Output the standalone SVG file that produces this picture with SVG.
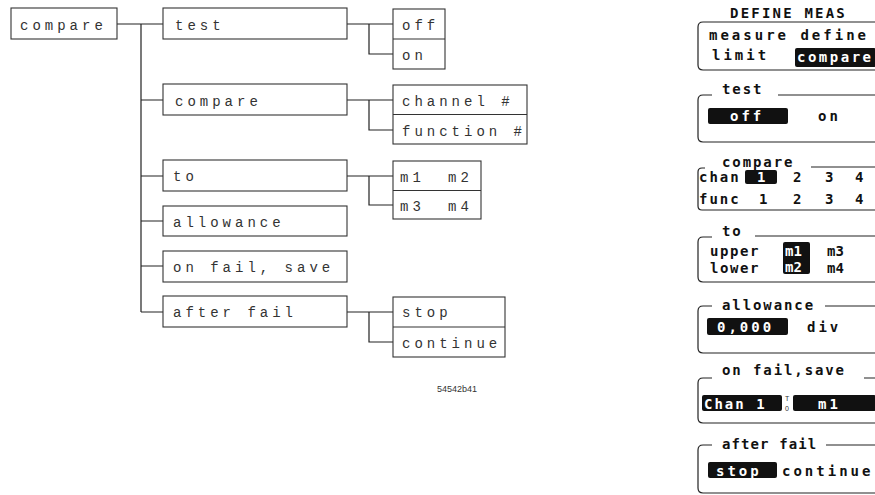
<svg xmlns="http://www.w3.org/2000/svg" width="875" height="495" viewBox="0 0 875 495">
<style>
.bx{fill:none;stroke:#333;stroke-width:1.1}
.cn{fill:none;stroke:#222;stroke-width:1.2}
.t{font-family:"Liberation Mono","DejaVu Sans Mono",monospace;font-size:14px;letter-spacing:4px;fill:#333}
.fr{fill:none;stroke:#222;stroke-width:1.2}
.p{font-family:"DejaVu Sans Mono","Liberation Mono",monospace;font-size:14px;letter-spacing:3px;fill:#111;font-weight:bold}
.l{letter-spacing:1.9px}
.w{fill:#fff}
.blk{fill:#111}
.s{font-family:"Liberation Sans",Arial,sans-serif;font-size:9px;fill:#333}
</style>
<rect width="875" height="495" fill="#fff"/>
<g id="connectors">
<path class="cn" d="M117 24H163M141 24V312M141 100H163M141 176H163M141 221H163M141 266H163M141 312H163"/>
<path class="cn" d="M347 24H393M369 24V54H393"/>
<path class="cn" d="M347 100H393M369 100V130H393"/>
<path class="cn" d="M347 176H393M369 176V205H393"/>
<path class="cn" d="M347 312H393M369 312V342H393"/>
</g>
<g id="n-root"><rect class="bx" x="11" y="8" width="106" height="31"/><text class="t" x="20" y="30">compare</text></g>
<g id="n-test"><rect class="bx" x="163" y="8" width="184" height="31"/><text class="t" x="175" y="30">test</text></g>
<g id="n-offon"><rect class="bx" x="393" y="9" width="52" height="60"/><path class="bx" d="M393 39H445"/><text class="t" x="402" y="30">off</text><text class="t" x="402" y="60">on</text></g>
<g id="n-compare"><rect class="bx" x="163" y="84" width="184" height="31"/><text class="t" x="175" y="106">compare</text></g>
<g id="n-chanfunc"><rect class="bx" x="393" y="85" width="134" height="59"/><path class="bx" d="M393 114.5H527"/><text class="t" x="402" y="106">channel #</text><text class="t" x="402" y="136">function #</text></g>
<g id="n-to"><rect class="bx" x="163" y="160" width="184" height="31"/><text class="t" x="173" y="181">to</text></g>
<g id="n-markers"><rect class="bx" x="393" y="161" width="88" height="58"/><path class="bx" d="M393 190.5H481"/><text class="t" x="400" y="182">m1</text><text class="t" x="448" y="182">m2</text><text class="t" x="400" y="211">m3</text><text class="t" x="448" y="211">m4</text></g>
<g id="n-allowance"><rect class="bx" x="163" y="206" width="184" height="30"/><text class="t" x="173" y="227">allowance</text></g>
<g id="n-onfail"><rect class="bx" x="163" y="251" width="184" height="31"/><text class="t" x="173" y="272">on fail, save</text></g>
<g id="n-afterfail"><rect class="bx" x="163" y="296" width="184" height="31"/><text class="t" x="173" y="317">after fail</text></g>
<g id="n-stopcont"><rect class="bx" x="393" y="297" width="112" height="60"/><path class="bx" d="M393 327H505"/><text class="t" x="402" y="317">stop</text><text class="t" x="402" y="348">continue</text></g>
<text class="s" x="437" y="392">54542b41</text>
<g id="panel">
<text class="p" x="730" y="18" style="letter-spacing:2.2px">DEFINE MEAS</text>
<g id="p-define">
<path class="fr" d="M876 22H703Q698 22 698 27V65Q698 70 703 70H876"/>
<text class="p" x="709" y="40">measure define</text>
<text class="p" x="712" y="60">limit</text>
<rect class="blk" x="795" y="48" width="81" height="19" rx="2"/>
<text class="p w" x="797" y="62" style="letter-spacing:2.5px">compare</text>
</g>
<g id="p-test">
<path class="fr" d="M712 95H703Q698 95 698 100V137Q698 142 703 142H876M778 95H876"/>
<text class="p l" x="722" y="94">test</text>
<rect class="blk" x="708" y="108" width="80" height="16" rx="2"/>
<text class="p w" x="730" y="121">off</text>
<text class="p" x="818" y="121">on</text>
</g>
<g id="p-compare">
<path class="fr" d="M705 168H702Q698 168 698 172V206Q698 210 702 210H876M811 167H876"/>
<text class="p l" x="722" y="167">compare</text>
<text class="p" x="699" y="182" style="letter-spacing:2px">chan</text>
<rect class="blk" x="745" y="170" width="32" height="14" rx="2"/>
<text class="p w" x="757" y="182">1</text>
<text class="p" x="793" y="182">2</text>
<text class="p" x="825" y="182">3</text>
<text class="p" x="855" y="182">4</text>
<text class="p" x="699" y="204" style="letter-spacing:2px">func</text>
<text class="p" x="759" y="204">1</text>
<text class="p" x="793" y="204">2</text>
<text class="p" x="825" y="204">3</text>
<text class="p" x="855" y="204">4</text>
</g>
<g id="p-to">
<path class="fr" d="M712 237H703Q698 237 698 242V277Q698 282 703 282H876M755 236H876"/>
<text class="p l" x="722" y="236">to</text>
<text class="p" x="710" y="256" style="letter-spacing:1.6px">upper</text>
<text class="p" x="710" y="273" style="letter-spacing:1.6px">lower</text>
<rect class="blk" x="783" y="242" width="27" height="32" rx="2"/>
<text class="p w" x="785" y="256" style="letter-spacing:0">m1</text>
<text class="p w" x="785" y="272" style="letter-spacing:0">m2</text>
<text class="p" x="827" y="256" style="letter-spacing:0">m3</text>
<text class="p" x="827" y="273" style="letter-spacing:0">m4</text>
</g>
<g id="p-allowance">
<path class="fr" d="M712 306H703Q698 306 698 311V348Q698 353 703 353H876M825 306H876"/>
<text class="p l" x="722" y="310">allowance</text>
<rect class="blk" x="707" y="318" width="81" height="17" rx="2"/>
<text class="p w" x="717" y="332">0,000</text>
<text class="p" x="807" y="332">div</text>
</g>
<g id="p-onfail">
<path class="fr" d="M712 378H703Q698 378 698 383V418Q698 423 703 423H876M864 378H876"/>
<text class="p l" x="722" y="375">on fail,save</text>
<rect class="blk" x="702" y="395" width="80" height="16" rx="2"/>
<text class="p w" x="704" y="409" style="letter-spacing:2px">Chan 1</text>
<text class="s" x="785" y="401" style="font-size:7px">T</text>
<text class="s" x="785" y="411" style="font-size:7px">0</text>
<rect class="blk" x="793" y="395" width="83" height="16" rx="2"/>
<text class="p w" x="818" y="409">m1</text>
</g>
<g id="p-afterfail">
<path class="fr" d="M712 445H703Q698 445 698 450V488Q698 493 703 493H876M826 445H876"/>
<text class="p" x="722" y="449" style="letter-spacing:1.1px">after fail</text>
<rect class="blk" x="708" y="462" width="69" height="16" rx="2"/>
<text class="p w" x="716" y="476">stop</text>
<text class="p" x="782" y="476">continue</text>
</g>
</g>
</svg>
